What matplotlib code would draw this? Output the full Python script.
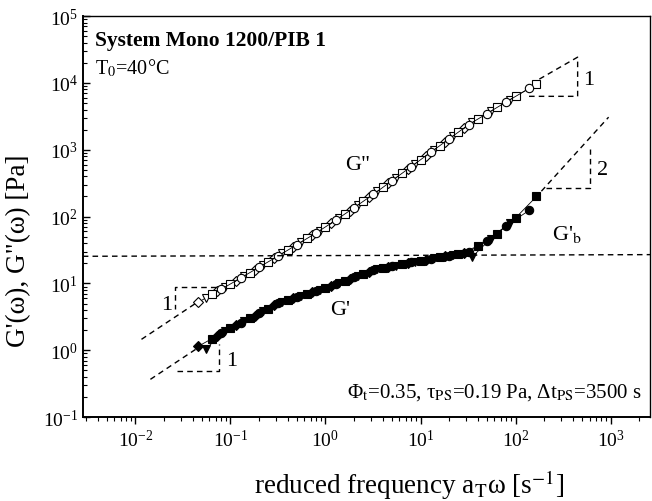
import matplotlib
matplotlib.use("Agg")
import matplotlib.pyplot as plt

plt.rcParams['font.family'] = ['Liberation Serif', 'DejaVu Serif']
plt.rcParams['mathtext.fontset'] = 'stix'

# four measurement sets (diamond, triangle, square, circle)
freq1 = [0.046, 0.073, 0.115, 0.18, 0.29, 0.46, 0.73, 1.15, 1.8, 2.9, 4.6, 7.3, 11.5, 18, 29]
gpp1 = [5.25, 7.6, 11.0, 16.0, 23.9, 35.5, 52.7, 79.4, 123, 196, 316, 510, 818, 1300, 2140]
gp1 = [1.15, 1.66, 2.37, 3.30, 4.70, 5.96, 7.36, 9.2, 11.7, 15.1, 17.6, 20.0, 22.7, 25.5, 28.8]

freq2 = [0.055, 0.087, 0.14, 0.22, 0.35, 0.55, 0.87, 1.4, 2.2, 3.5, 5.5, 8.7, 14, 22, 35, 55, 87]
gpp2 = [6.1, 8.75, 13.0, 18.9, 28.1, 41.3, 61.4, 96.2, 150, 238, 380, 614, 1005, 1607, 2560, 3770, 5600]
gp2 = [1.05, 1.92, 2.74, 3.83, 5.25, 6.46, 7.98, 10.2, 13.0, 16.3, 18.5, 21.0, 23.9, 26.9, 25.0, 47, 81]

freq3 = [0.064, 0.1, 0.16, 0.25, 0.4, 0.64, 1.0, 1.6, 2.5, 4.0, 6.4, 10, 16, 25, 40, 64, 100, 166]
gpp3 = [6.87, 9.77, 14.5, 21.1, 31.5, 47.1, 69.2, 109, 170, 273, 445, 708, 1150, 1840, 2870, 4300, 6310, 9550]
gp3 = [1.50, 2.14, 3.03, 4.22, 5.58, 6.93, 8.51, 11.0, 14.0, 16.9, 19.3, 21.9, 24.7, 27.7, 36.0, 55.8, 95.5, 200]

freq4 = [0.08, 0.13, 0.2, 0.32, 0.5, 0.8, 1.3, 2.0, 3.2, 5.0, 8.0, 13, 20, 32, 50, 80, 140]
gpp4 = [8.17, 12.2, 17.5, 25.9, 38.1, 57.1, 89.5, 136, 216, 344, 561, 931, 1455, 2370, 3480, 5210, 8320]
gp4 = [1.79, 2.59, 3.57, 5.04, 6.19, 7.67, 9.8, 12.4, 15.9, 18.0, 20.6, 23.4, 26.2, 29.8, 43.4, 73.1, 125]

# dashed guide lines
gb_x = [2.8e-3, 2.6e3]
gb_y = [25.5, 27.0]
gpp_lo_x = [0.0116, 0.045]
gpp_lo_y = [1.46, 5.25]
gpp_lo_tri_x = [0.0698, 0.0264, 0.0264]
gpp_lo_tri_y = [8.77, 8.77, 4.1]
gpp_hi_x = [178, 450, 450, 136]
gpp_hi_y = [11400, 24300, 6300, 6300]
gp_lo_x = [0.0144, 0.046]
gp_lo_y = [0.368, 1.1]
gp_lo_tri_x = [0.0277, 0.075, 0.075]
gp_lo_tri_y = [0.485, 0.485, 1.23]
gp_hi_x = [187, 953]
gp_hi_y = [240, 3075]
gp_hi_tri_x = [211, 600, 600]
gp_hi_tri_y = [266, 266, 1021]

fig = plt.figure(figsize=(6.52, 5.02), dpi=100)
ax = fig.add_axes([0.127, 0.167, 0.870, 0.799])
ax.set_xscale('log')
ax.set_yscale('log')
ax.set_xlim(2.8e-3, 2.6e3)
ax.set_ylim(1e-1, 1e5)

sets = [(freq1, gpp1, gp1, 'D', 5), (freq2, gpp2, gp2, 'v', 6),
        (freq3, gpp3, gp3, 's', 5.5), (freq4, gpp4, gp4, 'o', 6)]
for f, gpp, gp, m, ms in sets:
    ax.plot(f, gpp, '-', color='k', lw=0.6, marker=m, ms=ms, mfc='white', mec='k', mew=0.8)
    ax.plot(f, gp, '-', color='k', lw=0.6, marker=m, ms=ms, mfc='k', mec='k', mew=0.8)

dash = dict(color='k', lw=1.0, ls=(0, (4, 3)))
ax.plot(gb_x, gb_y, **dash)
ax.plot(gpp_lo_x, gpp_lo_y, **dash)
ax.plot(gpp_lo_tri_x, gpp_lo_tri_y, **dash)
ax.plot(gpp_hi_x, gpp_hi_y, **dash)
ax.plot(gp_lo_x, gp_lo_y, **dash)
ax.plot(gp_lo_tri_x, gp_lo_tri_y, **dash)
ax.plot(gp_hi_x, gp_hi_y, **dash)
ax.plot(gp_hi_tri_x, gp_hi_tri_y, **dash)

tr = ax.transAxes
ax.text(0.022, 0.940, 'System Mono 1200/PIB 1', transform=tr, fontsize=15.5, fontweight='bold', va='center')
ax.text(0.022, 0.873, 'T$_0$=40°C', transform=tr, fontsize=14.5, va='center')
ax.text(0.462, 0.631, 'G"', transform=tr, fontsize=16, va='center')
ax.text(0.436, 0.269, "G'", transform=tr, fontsize=16, va='center')
ax.text(0.827, 0.444, "G'$_\\mathrm{b}$", transform=tr, fontsize=16, va='baseline')
ax.text(0.882, 0.843, '1', transform=tr, fontsize=16, va='center')
ax.text(0.907, 0.618, '2', transform=tr, fontsize=16, va='center')
ax.text(0.138, 0.282, '1', transform=tr, fontsize=16, va='center')
ax.text(0.252, 0.142, '1', transform=tr, fontsize=16, va='center')
ax.text(0.465, 0.065, 'Φ$_\\mathrm{t}$=0.35, τ$_\\mathrm{PS}$=0.19 Pa, Δt$_\\mathrm{PS}$=3500 s',
        transform=tr, fontsize=15, va='center')

fig.text(0.389, 0.034, 'reduced frequency a$_\\mathrm{T}$ω [s$^{-1}$]', fontsize=19.5, va='center')
fig.text(0.028, 0.50, 'G\'(ω), G"(ω) [Pa]', fontsize=19.5, rotation=90, va='center', ha='center')

ax.tick_params(axis='x', which='both', direction='out', top=False, labelsize=14)
ax.tick_params(axis='y', which='both', direction='in', right=False, labelsize=14)
ax.tick_params(which='major', length=5, width=1)
ax.tick_params(which='minor', length=3, width=0.8)
for s in ax.spines.values():
    s.set_linewidth(1.0)
ax.spines['left'].set_linewidth(1.4)
ax.spines['bottom'].set_linewidth(1.4)

fig.savefig('out.png', dpi=100)
